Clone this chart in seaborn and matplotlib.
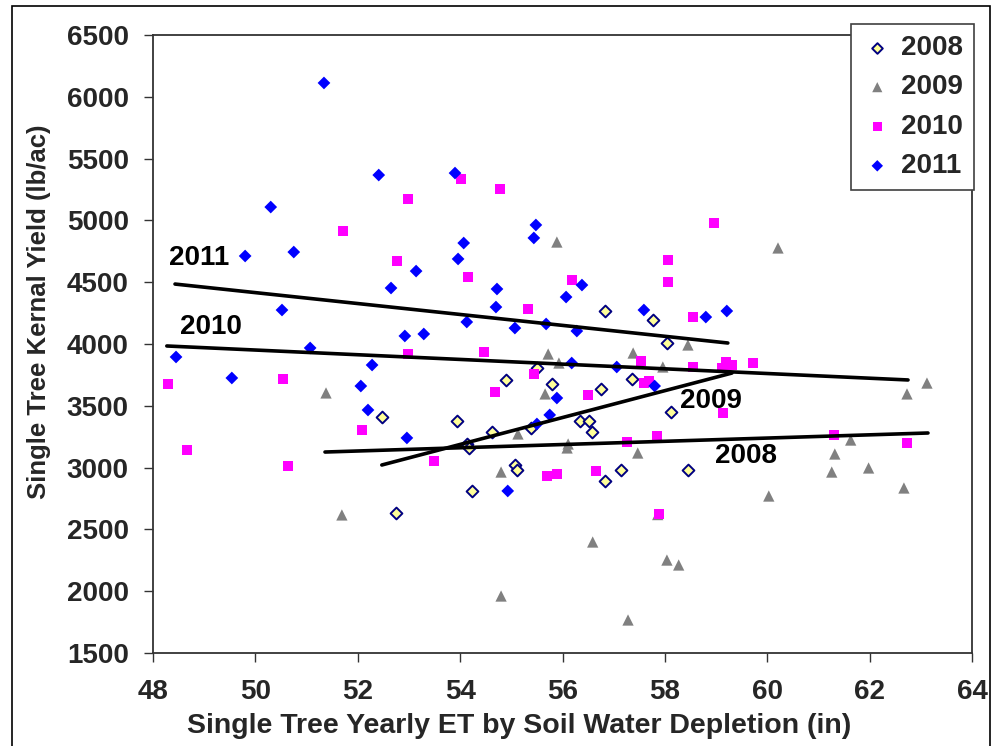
import matplotlib
matplotlib.use("Agg")
import matplotlib.pyplot as plt
from matplotlib.patches import Rectangle
import seaborn as sns
import numpy as np

# ---- data ----
x2008 = [56.83, 57.77, 58.04, 52.47, 52.75, 55.50, 54.89, 55.79, 56.75, 57.36,
         58.12, 53.94, 54.62, 55.38, 56.34, 56.52, 56.58, 54.13, 54.17, 55.07,
         55.11, 54.23, 56.83, 57.14, 58.45]
y2008 = [4267, 4194, 4008, 3409, 2633, 3806, 3709, 3676, 3636, 3717,
         3450, 3377, 3288, 3320, 3377, 3377, 3288, 3191, 3159, 3021,
         2981, 2811, 2892, 2981, 2981]

x2009 = [55.89, 60.21, 51.38, 51.69, 55.72, 55.93, 57.38, 57.96, 58.45, 55.66,
         55.13, 56.11, 56.09, 57.47, 54.80, 56.59, 58.04, 58.27, 54.80, 57.28,
         57.86, 63.12, 62.73, 61.63, 61.32, 61.26, 61.98, 62.67, 60.03]
y2009 = [4825, 4777, 3604, 2617, 3919, 3846, 3927, 3814, 3992, 3596,
         3272, 3191, 3159, 3118, 2964, 2398, 2252, 2212, 1961, 1767,
         2620, 3684, 3596, 3223, 3110, 2964, 2997, 2835, 2770]

x2010 = [52.98, 51.71, 52.77, 52.98, 48.29, 50.54, 52.08, 48.66, 50.64, 54.02,
         54.78, 58.06, 58.06, 54.15, 56.18, 55.33, 58.55, 58.96, 54.46, 55.44,
         54.68, 56.50, 57.53, 57.59, 57.69, 58.55, 53.49, 57.26, 57.84, 55.70,
         55.89, 56.65, 57.88, 59.19, 59.11, 59.31, 59.72, 59.13, 61.30, 62.73]
y2010 = [5173, 4914, 4672, 3919, 3676, 3717, 3304, 3142, 3013, 5335,
         5254, 4680, 4502, 4542, 4518, 4283, 4218, 4979, 3935, 3757,
         3612, 3587, 3862, 3684, 3701, 3814, 3053, 3207, 3256, 2932,
         2948, 2972, 2625, 3854, 3806, 3830, 3846, 3442, 3264, 3199]

x2011 = [51.34, 52.41, 50.30, 49.80, 50.75, 53.14, 52.65, 50.52, 52.92, 53.29,
         51.07, 48.45, 49.54, 52.28, 52.06, 52.20, 52.96, 53.90, 55.48, 55.44,
         54.07, 53.96, 54.72, 54.70, 56.38, 56.07, 54.13, 55.07, 55.68, 56.28,
         57.59, 58.80, 59.21, 56.18, 57.06, 57.80, 55.89, 55.75, 55.50, 54.93]
y2011 = [6112, 5367, 5108, 4712, 4744, 4590, 4453, 4275, 4065, 4081,
         3968, 3895, 3725, 3830, 3660, 3466, 3240, 5383, 4963, 4858,
         4817, 4688, 4445, 4299, 4477, 4380, 4178, 4129, 4162, 4105,
         4275, 4218, 4267, 3846, 3814, 3660, 3563, 3426, 3353, 2811]

# trend line end points
trend_x_2008 = [51.36, 63.14]
trend_y_2008 = [3126, 3280]
trend_x_2009 = [52.47, 59.31]
trend_y_2009 = [3021, 3765]
trend_x_2010 = [48.27, 62.75]
trend_y_2010 = [3984, 3709]
trend_x_2011 = [48.43, 59.23]
trend_y_2011 = [4485, 4008]

trend_labels = ["2008", "2009", "2010", "2011"]
trend_label_x = [59.58, 58.90, 49.13, 48.90]
trend_label_y = [3094, 3539, 4138, 4696]

x_ticks = list(range(48, 65, 2))
y_ticks = list(range(1500, 6501, 500))

# ---- style ----
sns.set_style("white")
plt.rcParams["font.family"] = ["Liberation Sans", "DejaVu Sans"]
plt.rcParams["font.weight"] = "bold"

FS = 20

fig = plt.figure(figsize=(9.95, 7.46), dpi=100)
ax = fig.add_axes([153 / 995, 1 - 653 / 746, (972 - 153) / 995, (653 - 35) / 746])

sns.scatterplot(x=x2008, y=y2008, marker="D", s=36, color="#FFFF99",
                edgecolor="#000080", linewidth=1.4, label="2008", ax=ax, zorder=3)
sns.scatterplot(x=x2009, y=y2009, marker="^", s=66, color="#808080",
                edgecolor="none", linewidth=0, label="2009", ax=ax, zorder=3)
sns.scatterplot(x=x2010, y=y2010, marker="s", s=54, color="#FF00FF",
                edgecolor="none", linewidth=0, label="2010", ax=ax, zorder=3)
sns.scatterplot(x=x2011, y=y2011, marker="D", s=42, color="#0000FF",
                edgecolor="none", linewidth=0, label="2011", ax=ax, zorder=3)

for tx, ty in [(trend_x_2008, trend_y_2008), (trend_x_2009, trend_y_2009),
               (trend_x_2010, trend_y_2010), (trend_x_2011, trend_y_2011)]:
    sns.lineplot(x=tx, y=ty, color="black", linewidth=2.6, ax=ax, zorder=4,
                 legend=False)

for lab, lx, ly in zip(trend_labels, trend_label_x, trend_label_y):
    ax.text(lx, ly, lab, fontsize=FS, fontweight="bold", ha="center",
            va="center", color="black", zorder=5)

ax.set_xlim(48, 64)
ax.set_ylim(1500, 6500)
ax.set_xticks(x_ticks)
ax.set_yticks(y_ticks)
ax.set_xticklabels([str(v) for v in x_ticks])
ax.set_yticklabels([str(v) for v in y_ticks])

ax.tick_params(axis="both", which="both", direction="out", length=6.5,
               width=1.0, color="#333333", labelsize=FS, bottom=True,
               left=True, top=False, right=False)
ax.tick_params(axis="x", pad=12)
ax.tick_params(axis="y", pad=11)
for t in ax.get_xticklabels() + ax.get_yticklabels():
    t.set_fontweight("bold")

for sp in ax.spines.values():
    sp.set_visible(True)
    sp.set_color("#333333")
    sp.set_linewidth(1.3)

ax.set_xlabel("Single Tree Yearly ET by Soil Water Depletion (in)",
              fontsize=20.5, fontweight="bold")
ax.set_ylabel("Single Tree Kernal Yield (lb/ac)", fontsize=18.5,
              fontweight="bold")
ax.xaxis.set_label_coords(0.447, -0.097)
ax.yaxis.set_label_coords(-0.125, 0.552)

leg = ax.legend(loc="upper right", bbox_to_anchor=(974 / 995, 1 - 24 / 746),
                bbox_transform=fig.transFigure, borderaxespad=0,
                frameon=True, fancybox=False, shadow=False,
                prop={"size": FS, "weight": "bold"}, markerscale=0.9,
                handlelength=1.1, handletextpad=0.3, labelspacing=0.48,
                borderpad=0.4)
leg.get_frame().set_edgecolor("#404040")
leg.get_frame().set_linewidth(1.2)
leg.get_frame().set_alpha(1)
leg.set_zorder(10)

fig.patches.append(Rectangle((12 / 995, -0.05), (990 - 12) / 995,
                             1.05 - 6 / 746, transform=fig.transFigure,
                             fill=False, edgecolor="black", linewidth=1.2))

fig.savefig("out.png", dpi=100)
